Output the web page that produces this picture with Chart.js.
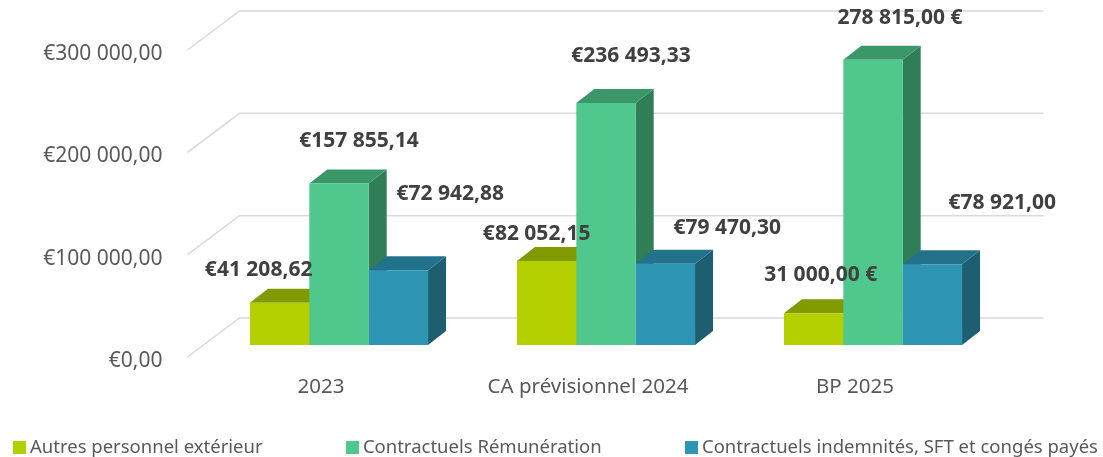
<!DOCTYPE html>
<html lang="fr">
<head>
<meta charset="UTF-8">
<title>Dépenses de personnel contractuel</title>
<script src="https://cdn.jsdelivr.net/npm/chart.js"></script>
<style>
    body {
        margin: 0;
        background: #fff;
        font-family: "Noto Sans", sans-serif;
    }
    .wrap {
        position: relative;
        width: 1103px;
        height: 457px;
    }
    #legend {
        position: absolute;
        left: 13px;
        right: 5px;
        top: 434px;
        display: flex;
        justify-content: space-between;
        font-size: 18.5px;
        color: #595959;
        line-height: 24px;
        white-space: nowrap;
    }
    #legend span.box {
        display: inline-block;
        width: 13px;
        height: 13px;
        margin-right: 4px;
        vertical-align: -1px;
    }
</style>
</head>
<body>
<div class="wrap">
    <canvas id="myChart" width="1103" height="457"></canvas>
    <div id="legend"></div>
</div>

<script>
    var categories = ['2023', 'CA prévisionnel 2024', 'BP 2025'];
    var seriesNames = ['Autres personnel extérieur', 'Contractuels Rémunération', 'Contractuels indemnités, SFT et congés payés'];
    var autresPersonnel = [41208.62, 82052.15, 31000.00];
    var contractuelsRemu = [157855.14, 236493.33, 278815.00];
    var contractuelsIndem = [72942.88, 79470.30, 78921.00];
    var yTicks = [0, 100000, 200000, 300000];

    // 3 shades per series: front, top, side
    var faceColors = [
        ['#b3cf00', '#809a00', '#6f8600'],
        ['#50c78c', '#3a9868', '#2f7e57'],
        ['#2e96b4', '#23728b', '#1d5e70']
    ];
    var depthX = 18, depthY = -14;

    // a few labels use the trailing euro sign in the original
    var euroAfter = [[false, false, true], [false, false, true], [false, false, false]];
    // label nudges (px) from the top centre of each bar
    var labelShift = [
        [[-21, -33], [-10, -27], [7, -38]],
        [[20, -42], [25, -47], [27, -42]],
        [[52, -76], [62, -36], [70, -61]]
    ];

    function frNumber(v) {
        var parts = v.toFixed(2).split('.');
        return parts[0].replace(/\B(?=(\d{3})+(?!\d))/g, ' ') + ',' + parts[1];
    }

    var gridPlugin = {
        id: 'backGrid',
        beforeDatasetsDraw: function(chart) {
            var ctx = chart.ctx, y = chart.scales.y, a = chart.chartArea;
            ctx.save();
            ctx.strokeStyle = '#d9d9d9';
            ctx.lineWidth = 1.5;
            yTicks.forEach(function(v) {
                var py = y.getPixelForValue(v);
                ctx.beginPath();
                ctx.moveTo(a.left - 18, py + 12);
                ctx.lineTo(a.left + 34, py - 27);
                ctx.lineTo(a.right + 37, py - 27);
                ctx.stroke();
            });
            ctx.restore();

            // tops and sides of the bars, drawn before the fronts
            ctx.save();
            for (var i = 0; i < categories.length; i++) {
                for (var d = 0; d < chart.data.datasets.length; d++) {
                    var bar = chart.getDatasetMeta(d).data[i];
                    var left = bar.x - bar.width / 2, right = bar.x + bar.width / 2;
                    var top = bar.y, bottom = bar.base;
                    ctx.fillStyle = faceColors[d][2];
                    ctx.beginPath();
                    ctx.moveTo(right, top);
                    ctx.lineTo(right + depthX, top + depthY);
                    ctx.lineTo(right + depthX, bottom + depthY);
                    ctx.lineTo(right, bottom);
                    ctx.closePath();
                    ctx.fill();
                    ctx.fillStyle = faceColors[d][1];
                    ctx.beginPath();
                    ctx.moveTo(left, top);
                    ctx.lineTo(right, top);
                    ctx.lineTo(right + depthX, top + depthY);
                    ctx.lineTo(left + depthX, top + depthY);
                    ctx.closePath();
                    ctx.fill();
                }
            }
            ctx.restore();
        },
        afterDatasetsDraw: function(chart) {
            var ctx = chart.ctx;
            ctx.save();
            ctx.font = 'bold 21px "Noto Sans"';
            ctx.fillStyle = '#404040';
            ctx.textAlign = 'center';
            ctx.textBaseline = 'middle';
            chart.data.datasets.forEach(function(ds, d) {
                chart.getDatasetMeta(d).data.forEach(function(bar, i) {
                    var v = ds.data[i];
                    var txt = euroAfter[d][i] ? frNumber(v) + ' €' : '€' + frNumber(v);
                    ctx.fillText(txt, bar.x + labelShift[d][i][0], bar.y + labelShift[d][i][1]);
                });
            });
            ctx.restore();
        }
    };

    var ctx = document.getElementById('myChart').getContext('2d');
    var myChart = new Chart(ctx, {
        type: 'bar',
        data: {
            labels: categories,
            datasets: [
                { label: seriesNames[0], data: autresPersonnel, backgroundColor: faceColors[0][0] },
                { label: seriesNames[1], data: contractuelsRemu, backgroundColor: faceColors[1][0] },
                { label: seriesNames[2], data: contractuelsIndem, backgroundColor: faceColors[2][0] }
            ]
        },
        options: {
            responsive: false,
            animation: false,
            datasets: {
                bar: { barPercentage: 1, categoryPercentage: 0.667 }
            },
            layout: {
                padding: { top: 38, right: 96.5, left: 0, bottom: 0 }
            },
            scales: {
                x: {
                    grid: { display: false, drawTicks: false },
                    border: { display: false },
                    ticks: {
                        color: '#595959',
                        font: { family: 'Noto Sans', size: 20.5 },
                        padding: 30,
                        labelOffset: -18
                    },
                    afterFit: function(scale) {
                        scale.height = 112;
                        scale.paddingLeft = 0;
                        scale.paddingRight = 0;
                    }
                },
                y: {
                    min: 0,
                    max: 300000,
                    grid: { display: false, drawTicks: false },
                    border: { display: false },
                    ticks: {
                        stepSize: 100000,
                        color: '#595959',
                        font: { family: 'Noto Sans', size: 21 },
                        padding: 43,
                        labelOffset: 16,
                        callback: function(v) { return '€' + frNumber(v); }
                    },
                    afterFit: function(scale) {
                        scale.width = 205.5;
                        scale.paddingTop = 0;
                        scale.paddingBottom = 0;
                    }
                }
            },
            plugins: {
                legend: { display: false },
                tooltip: { enabled: false }
            }
        },
        plugins: [gridPlugin]
    });

    // legend in html, spread like the original
    var legend = document.getElementById('legend');
    myChart.data.datasets.forEach(function(ds) {
        var item = document.createElement('div');
        item.innerHTML = '<span class="box" style="background:' + ds.backgroundColor + '"></span>' + ds.label;
        legend.appendChild(item);
    });
</script>
</body>
</html>
